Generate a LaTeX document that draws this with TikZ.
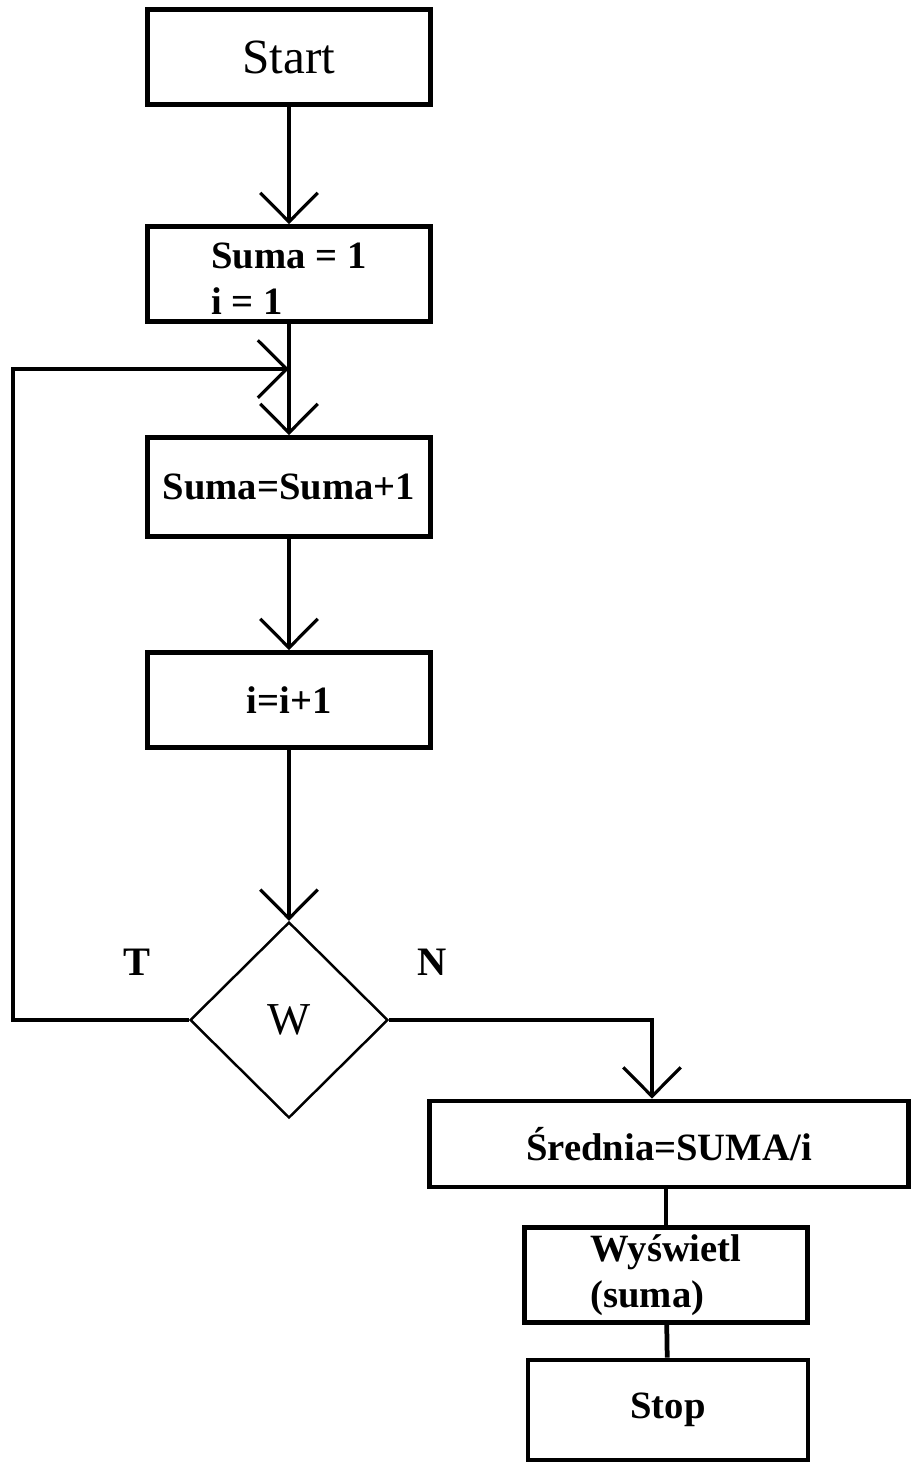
\documentclass[tikz,border=0pt]{standalone}
\usepackage{fontspec}
\setmainfont{Liberation Serif}
\usetikzlibrary{arrows.meta,shapes.geometric}

\begin{document}
\begin{tikzpicture}[x=0.02cm, y=-0.02cm,
procbox/.style={draw, line width=2.8pt, align=center, minimum width=5.66cm, minimum height=1.9cm, font=\fontsize{22}{26}\selectfont\bfseries},
decision/.style={draw, diamond, aspect=1, inner sep=0pt, line width=1.4pt, minimum width=3.96cm, minimum height=3.92cm, font=\fontsize{26}{30}\selectfont},
branch/.style={font=\fontsize{23}{27}\selectfont\bfseries},
arrow/.style={-{Straight Barb[length=0.58cm, width=1.15cm, line width=1.8pt]}, line width=2.7pt},
link/.style={line width=2.7pt}
]
\useasboundingbox (0,0) rectangle (913,1472);
\node[procbox, font=\fontsize{28}{32}\selectfont] (start) at (289,57) {Start};
\node[procbox, align=left, inner ysep=0pt, text height=1.62cm] (init) at (289,274) {Suma = 1\\i = 1};
\node[procbox, minimum height=1.98cm] (sum) at (289,487) {Suma=Suma+1};
\node[procbox] (inc) at (289,700) {i=i+1};
\node[decision] (cond) at (289,1020) {W};
\node[branch] (yes) at (137,962) {T};
\node[branch] (no) at (432,962) {N};
\node[procbox, minimum width=9.6cm, minimum height=1.72cm] (avg) at (669,1144) {Średnia=SUMA/i};
\node[procbox, align=left] (show) at (666,1275) {Wyświetl\\(suma)};
\node[procbox, minimum width=5.6cm, minimum height=2cm] (stop) at (668,1410) {Stop};
\coordinate (corner) at (13,369);
\coordinate (merge) at (init.south |- 0,369);
% main flow
\draw[arrow] (start) -- (init);
\draw[arrow] (init) -- (sum);
\draw[arrow] (sum) -- (inc);
\draw[arrow] (inc) -- (cond);
% T: back to the loop
\draw[arrow] (cond.west) -| (corner) -- (merge);
% N: leave the loop
\draw[arrow] (cond.east) -| ([xshift=-0.34cm]avg.north);
\draw[link] (avg.south -| show) -- (show.north);
\draw[link] (show) -- (stop);
\end{tikzpicture}
\end{document}
